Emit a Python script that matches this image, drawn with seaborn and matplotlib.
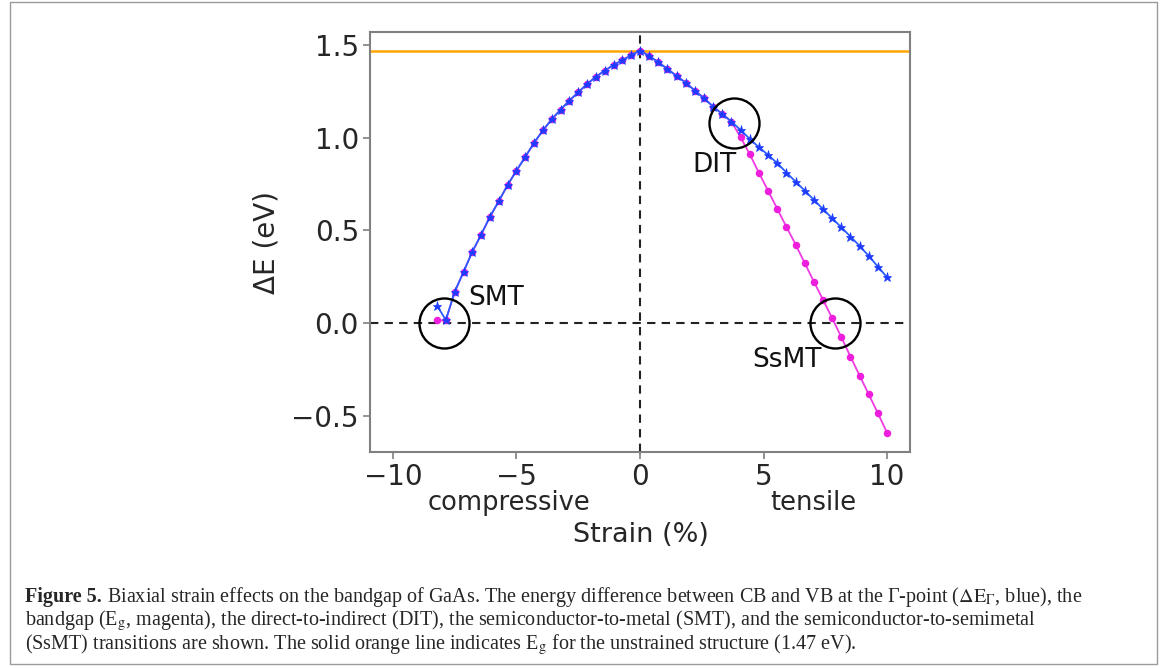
import matplotlib
matplotlib.use("Agg")
import matplotlib.pyplot as plt
from matplotlib.patches import Rectangle
import seaborn as sns
import pandas as pd

# Biaxial strain (%) sampled on the compressive and tensile sides
strain = [-8.21, -7.86, -7.50, -7.14, -6.79, -6.43, -6.07, -5.71, -5.36, -5.00,
          -4.64, -4.29, -3.93, -3.57, -3.21, -2.86, -2.50, -2.14, -1.79, -1.43,
          -1.07, -0.71, -0.36, 0.00,
          0.37, 0.74, 1.11, 1.48, 1.85, 2.22, 2.59, 2.96, 3.33, 3.70,
          4.07, 4.44, 4.81, 5.19, 5.56, 5.93, 6.30, 6.67, 7.04, 7.41,
          7.78, 8.15, 8.52, 8.89, 9.26, 9.63, 10.00]

# Energy difference CB-VB at the Gamma point (eV)
delta_e_gamma = [0.093, 0.018, 0.170, 0.278, 0.385, 0.478, 0.575, 0.660, 0.745, 0.823,
                 0.898, 0.972, 1.040, 1.100, 1.152, 1.200, 1.245, 1.290, 1.328, 1.362,
                 1.392, 1.418, 1.445, 1.470,
                 1.441, 1.407, 1.371, 1.333, 1.297, 1.254, 1.213, 1.168, 1.128, 1.087,
                 1.042, 0.994, 0.949, 0.907, 0.862, 0.812, 0.763, 0.715, 0.665, 0.615,
                 0.566, 0.517, 0.467, 0.417, 0.363, 0.305, 0.248]

# Bandgap (eV)
bandgap = [0.015, 0.015, 0.170, 0.278, 0.385, 0.478, 0.575, 0.660, 0.745, 0.823,
           0.898, 0.972, 1.040, 1.100, 1.152, 1.200, 1.245, 1.290, 1.328, 1.362,
           1.392, 1.418, 1.445, 1.470,
           1.441, 1.407, 1.371, 1.333, 1.297, 1.254, 1.213, 1.168, 1.128, 1.087,
           1.003, 0.912, 0.812, 0.713, 0.616, 0.519, 0.424, 0.324, 0.224, 0.126,
           0.027, -0.075, -0.180, -0.282, -0.383, -0.485, -0.590]

eg_unstrained = 1.47

# Transition markers: (strain, energy, label, label_x, label_y, label_ha)
transitions = [
    (-7.94, 0.00, "SMT", -6.96, 0.137, "left"),
    (3.81, 1.08, "DIT", 3.00, 0.853, "center"),
    (7.89, 0.00, "SsMT", 5.95, -0.198, "center"),
]

x_ticks = [-10, -5, 0, 5, 10]
y_ticks = [-0.5, 0.0, 0.5, 1.0, 1.5]

caption_bold = "Figure 5."
caption_lines = [
    " Biaxial strain effects on the bandgap of GaAs. The energy difference between CB and VB at the \u0393-point "
    r"($\Delta\mathrm{E}_{\Gamma}$, blue), the",
    r"bandgap (E$_{\mathrm{g}}$, magenta), the direct-to-indirect (DIT), the semiconductor-to-metal (SMT), "
    "and the semiconductor-to-semimetal",
    "(SsMT) transitions are shown. The solid orange line indicates E$_{\\mathrm{g}}$ for the unstrained "
    "structure (1.47 eV).",
]

sns.set_theme(style="white")
plt.rcParams["font.family"] = ["DejaVu Sans"]
plt.rcParams["mathtext.fontset"] = "stix"

W, H = 1167, 668
fig = plt.figure(figsize=(W / 100, H / 100), dpi=100)
fig.patch.set_facecolor("white")
ax = fig.add_axes([370 / W, 1 - 452 / H, 540 / W, 420 / H])

df = pd.DataFrame({"strain": strain, "dEg": delta_e_gamma, "Eg": bandgap})

sns.lineplot(data=df, x="strain", y="Eg", ax=ax, color="#f03ae2", lw=1.3,
             marker="o", markersize=5.4, markeredgewidth=0, markerfacecolor="#ee1fdc",
             estimator=None, sort=False, zorder=2)
sns.lineplot(data=df, x="strain", y="dEg", ax=ax, color="#2a5dff", lw=1.3,
             marker="*", markersize=6.8, markeredgewidth=0.5, markeredgecolor="#1d3cff",
             markerfacecolor="#1d3cff", estimator=None, sort=False, zorder=3)

ax.axhline(eg_unstrained, color="#ffa500", lw=1.8, zorder=1)
ax.axhline(0.0, color="#222222", lw=1.5, ls=(0, (4, 3)), zorder=1)
ax.axvline(0.0, color="#222222", lw=1.5, ls=(0, (4, 3)), zorder=1)

for sx, sy, lab, lx, ly, ha in transitions:
    ax.plot([sx], [sy], marker="o", markersize=36, markerfacecolor="none",
            markeredgecolor="black", markeredgewidth=1.7, zorder=4)
    ax.text(lx, ly, lab, fontsize=19, ha=ha, va="center", color="#111111")

ax.set_xlim(-10.93, 10.93)
ax.set_ylim(-0.694, 1.570)
ax.set_xticks(x_ticks)
ax.set_xticklabels([f"{v:d}".replace("-", "\u2212") for v in x_ticks])
ax.set_yticks(y_ticks)
ax.set_yticklabels([f"{v:.1f}".replace("-", "\u2212") for v in y_ticks])
ax.tick_params(axis="both", which="major", labelsize=20, length=5, width=1.2,
               color="#808080", direction="out", bottom=True, left=True, pad=3)
for side in ax.spines.values():
    side.set_color("#808080")
    side.set_linewidth(1.5)

ax.set_xlabel("")
ax.set_ylabel("\u0394E (eV)", fontsize=20, labelpad=8)

fig.text(509 / W, 1 - 503 / H, "compressive", fontsize=18.5, ha="center", va="center")
fig.text(813 / W, 1 - 503 / H, "tensile", fontsize=18.5, ha="center", va="center")
fig.text(641 / W, 1 - 535 / H, "Strain (%)", fontsize=19.5, ha="center", va="center")

# Outer frame around figure and caption
fig.patches.append(Rectangle((10 / W, 4 / H), 1147 / W, 662 / H, transform=fig.transFigure,
                             fill=False, edgecolor="#9a9a9a", lw=1.0))

# Caption block, sized so the first line spans the caption width
cap_font = ["Liberation Serif", "DejaVu Serif"]
x0 = 25 / W
line_y = [597, 621, 645]
target_width = 1063
renderer = fig.canvas.get_renderer()


def caption_width(size):
    a = fig.text(0, 0, caption_bold, fontsize=size, family=cap_font, weight="bold")
    b = fig.text(0, 0, caption_lines[0], fontsize=size, family=cap_font)
    w = a.get_window_extent(renderer=renderer).width + b.get_window_extent(renderer=renderer).width
    a.remove()
    b.remove()
    return w


cap_size = 13.2
cap_size *= target_width / caption_width(cap_size)

tb = fig.text(x0, 1 - line_y[0] / H, caption_bold, fontsize=cap_size, family=cap_font,
              weight="bold", va="center", ha="left")
bb = tb.get_window_extent(renderer=renderer)
fig.text(bb.x1 / W, 1 - line_y[0] / H, caption_lines[0], fontsize=cap_size, family=cap_font,
         va="center", ha="left")
for yl, txt in zip(line_y[1:], caption_lines[1:]):
    fig.text(x0, 1 - yl / H, txt, fontsize=cap_size, family=cap_font, va="center", ha="left")

fig.savefig("out.png", dpi=100, facecolor="white")
